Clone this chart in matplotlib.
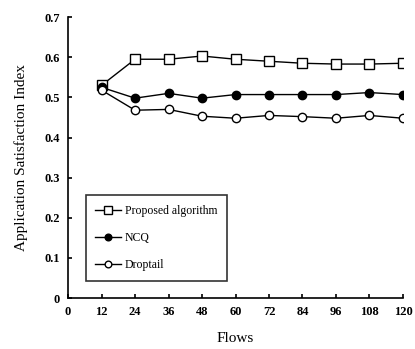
import matplotlib.pyplot as plt

flows = [12, 24, 36, 48, 60, 72, 84, 96, 108, 120]
proposed = [0.530, 0.595, 0.595, 0.603, 0.595, 0.590, 0.585, 0.583, 0.583, 0.585]
ncq = [0.525, 0.498, 0.510, 0.498, 0.507, 0.507, 0.507, 0.507, 0.512, 0.507]
droptail = [0.518, 0.468, 0.470, 0.453, 0.448, 0.455, 0.452, 0.448, 0.455, 0.448]

xticks = [0, 12, 24, 36, 48, 60, 72, 84, 96, 108, 120]
yticks = [0, 0.1, 0.2, 0.3, 0.4, 0.5, 0.6, 0.7]
ytick_labels = ["0", "0.1", "0.2", "0.3", "0.4", "0.5", "0.6", "0.7"]

plt.rcParams['font.family'] = 'Liberation Serif'

fig = plt.figure(figsize=(4.15, 3.49), dpi=100)
ax = fig.add_axes([0.164, 0.146, 0.807, 0.805])

ax.plot(flows, proposed, color='black', lw=1, marker='s', ms=7, mfc='white', mec='black', label='Proposed algorithm')
ax.plot(flows, ncq, color='black', lw=1, marker='o', ms=6, mfc='black', mec='black', label='NCQ')
ax.plot(flows, droptail, color='black', lw=1, marker='o', ms=6, mfc='white', mec='black', label='Droptail')

ax.set_xlim(0, 120)
ax.set_ylim(0, 0.7)
ax.set_xticks(xticks)
ax.set_xticklabels([str(v) for v in xticks], fontsize=9, fontweight='bold')
ax.set_yticks(yticks)
ax.set_yticklabels(ytick_labels, fontsize=9, fontweight='bold')
ax.tick_params(direction='in', length=3, width=1.2, pad=6)
for s in ['top', 'right']:
    ax.spines[s].set_visible(False)
for s in ['left', 'bottom']:
    ax.spines[s].set_linewidth(1.2)

ax.set_xlabel('Flows', fontsize=11, labelpad=10)
ax.set_ylabel('Application Satisfaction Index', fontsize=11, labelpad=12)

leg = ax.legend(loc='lower left', bbox_to_anchor=(0.035, 0.04), fontsize=8.5,
                frameon=True, fancybox=False, edgecolor='black',
                handlelength=2.2, handletextpad=0.3, labelspacing=1.3, borderpad=0.8,
                markerscale=0.8)
leg.get_frame().set_linewidth(1.2)

fig.savefig('out.png', dpi=100)
